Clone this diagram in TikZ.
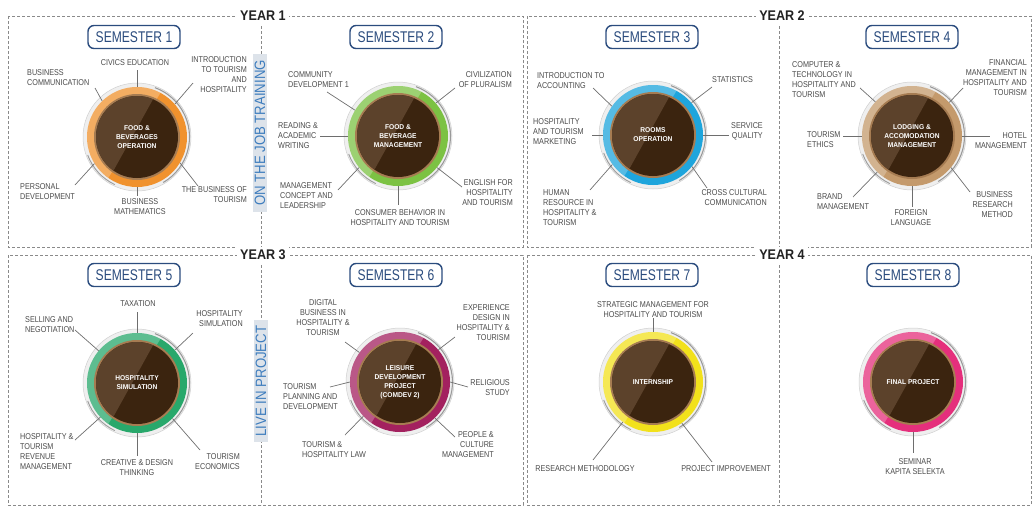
\documentclass[tikz,border=0pt]{standalone}
\usepackage{fontspec}
\setmainfont{Liberation Sans}
\newfontfamily\labfont[FakeStretch=0.85]{Liberation Sans}
\newfontfamily\ctrfont[FakeStretch=0.95]{Liberation Sans}
\newfontfamily\semfont[FakeStretch=0.78]{Liberation Sans}
\newfontfamily\yrfont[FakeStretch=0.9]{Liberation Sans}
\newfontfamily\sidefont[FakeStretch=0.88]{Liberation Sans}
\definecolor{dashgray}{HTML}{8A8A8A}
\definecolor{yearblack}{HTML}{222222}
\definecolor{sideblue}{HTML}{3E7DBE}
\definecolor{sidebg}{HTML}{DDE3EA}
\definecolor{semblue}{HTML}{2B4C7E}
\definecolor{labgray}{HTML}{4A4A4A}
\definecolor{conngray}{HTML}{6E6E6E}
\definecolor{halofill}{HTML}{EFEFEF}
\definecolor{halorim}{HTML}{CFCFCF}
\definecolor{haloarc}{HTML}{9A9A9A}
\definecolor{rimtan}{HTML}{A67C52}
\definecolor{darkbrown}{HTML}{3B240F}
\definecolor{lightbrown}{HTML}{5C422B}
\definecolor{ringA}{HTML}{F0922E}
\definecolor{ringB}{HTML}{7CC243}
\definecolor{ringC}{HTML}{1EA5DC}
\definecolor{ringD}{HTML}{C49A6C}
\definecolor{ringE}{HTML}{28A86B}
\definecolor{ringF}{HTML}{A3215F}
\definecolor{ringG}{HTML}{F2E11B}
\definecolor{ringH}{HTML}{E52F7C}
\newcommand\semdisc[5]{%
 \begin{scope}[shift={(#2,#3)},yscale=-1]
  \fill[halofill] (0,0) circle (54);
  \draw[halorim, line width=0.5pt] (0,0) circle (54);
  \draw[haloarc, line width=1.1pt] (-60:52.5) arc[start angle=-60,end angle=70,radius=52.5];
  \draw[haloarc, line width=0.9pt] (200:52.5) arc[start angle=200,end angle=245,radius=52.5];
  \fill[#4] (0,0) circle (50);
  \fill[white, opacity=.25] (62:50) arc[start angle=62,end angle=235,radius=50] -- cycle;
  \fill[rimtan] (0,0) circle (43);
  \fill[darkbrown] (0,0) circle (41);
  \fill[lightbrown] (67:41) arc[start angle=67,end angle=235,radius=41] -- cycle;
 \end{scope}
 \node[ringnode] (#1) at (#2,#3) {};
 \node[ctr] (#1t) at (#2,#3) {#5};
}
\begin{document}
\begin{tikzpicture}[x=1pt,y=-1pt,
  box/.style={draw=dashgray, dash pattern=on 3pt off 2pt, line width=0.6pt},
  yearlbl/.style={fill=white, inner sep=3pt, font=\yrfont\bfseries\fontsize{14}{14}\selectfont, text=yearblack},
  sidelbl/.style={fill=sidebg, rotate=90, text=sideblue, font=\sidefont\fontsize{15}{15}\selectfont, inner xsep=6pt, inner ysep=2pt},
  sembox/.style={draw=semblue, line width=1.4pt, rounded corners=6pt, fill=white, minimum width=92pt, minimum height=23pt, inner sep=0pt, text=semblue, font=\semfont\fontsize{15.5}{15.5}\selectfont},
  lbl/.style={inner sep=0pt, font=\labfont\fontsize{8.5}{10}\selectfont, text=labgray},
  conn/.style={draw=conngray, line width=0.7pt},
  ctr/.style={text=white, font=\ctrfont\bfseries\fontsize{7}{9}\selectfont, align=center, inner sep=0pt},
  ringnode/.style={circle, minimum size=100pt, inner sep=0pt}]
\useasboundingbox (0,0) rectangle (1033,507);
% frames
\draw[box] (8,16) rectangle (523,247);
\draw[box] (527,16) rectangle (1031,247);
\draw[box] (8,255) rectangle (523,505);
\draw[box] (527,255) rectangle (1031,505);
\draw[box] (261,16) -- (261,247);
\draw[box] (779,16) -- (779,247);
\draw[box] (261,255) -- (261,505);
\draw[box] (779,255) -- (779,505);
\node[yearlbl] (y1) at (263,16) {YEAR 1};
\node[yearlbl] (y2) at (782,16) {YEAR 2};
\node[yearlbl] (y3) at (263,255) {YEAR 3};
\node[yearlbl] (y4) at (782,255) {YEAR 4};
\node[sidelbl] (ojt) at (260,133) {ON THE JOB TRAINING};
\node[sidelbl] (lip) at (261,381) {LIVE IN PROJECT};
% semester titles
\node[sembox] (sem1) at (134,37) {SEMESTER 1};
\node[sembox] (sem2) at (396,37) {SEMESTER 2};
\node[sembox] (sem3) at (652,37) {SEMESTER 3};
\node[sembox] (sem4) at (912,37) {SEMESTER 4};
\node[sembox] (sem5) at (134,275) {SEMESTER 5};
\node[sembox] (sem6) at (396,275) {SEMESTER 6};
\node[sembox] (sem7) at (652,275) {SEMESTER 7};
\node[sembox] (sem8) at (913,275) {SEMESTER 8};
% discs
\semdisc{c1}{137}{137}{ringA}{FOOD \&\\BEVERAGES\\OPERATION}
\semdisc{c2}{398}{136}{ringB}{FOOD \&\\BEVERAGE\\MANAGEMENT}
\semdisc{c3}{653}{135}{ringC}{ROOMS\\OPERATION}
\semdisc{c4}{912}{136}{ringD}{LODGING \&\\ACCOMODATION\\MANAGEMENT}
\semdisc{c5}{137}{383}{ringE}{HOSPITALITY\\SIMULATION}
\semdisc{c6}{400}{382}{ringF}{LEISURE\\DEVELOPMENT\\PROJECT\\(COMDEV 2)}
\semdisc{c7}{653}{382}{ringG}{INTERNSHIP}
\semdisc{c8}{913}{382}{ringH}{FINAL PROJECT}
% ---------- semester 1
\node[lbl, anchor=north] (l1a) at (135,59) {CIVICS EDUCATION};
\node[lbl, anchor=north west, align=left] (l1b) at (27,69) {BUSINESS\\COMMUNICATION};
\node[lbl, anchor=north east, align=right] (l1c) at (247,56) {INTRODUCTION\\TO TOURISM\\AND\\HOSPITALITY};
\node[lbl, anchor=north west, align=left] (l1d) at (20,183) {PERSONAL\\DEVELOPMENT};
\node[lbl, anchor=north, align=center] (l1e) at (140,198) {BUSINESS\\MATHEMATICS};
\node[lbl, anchor=north east, align=right] (l1f) at (247,186) {THE BUSINESS OF\\TOURISM};
\coordinate (e1a) at (137,70); \coordinate (e1b) at (95,88); \coordinate (e1c) at (193,83);
\coordinate (e1d) at (75,185); \coordinate (e1e) at (137,196); \coordinate (e1f) at (198,186);
\draw[conn] (c1.90) -- (e1a); \draw[conn] (c1.134) -- (e1b); \draw[conn] (c1.41) -- (e1c);
\draw[conn] (c1.212) -- (e1d); \draw[conn] (c1.270) -- (e1e); \draw[conn] (c1.329) -- (e1f);
% ---------- semester 2
\node[lbl, anchor=north west, align=left] (l2a) at (288,71) {COMMUNITY\\DEVELOPMENT 1};
\node[lbl, anchor=north east, align=right] (l2b) at (512,71) {CIVILIZATION\\OF PLURALISM};
\node[lbl, anchor=north west, align=left] (l2c) at (278,122) {READING \&\\ACADEMIC\\WRITING};
\node[lbl, anchor=north west, align=left] (l2d) at (280,182) {MANAGEMENT\\CONCEPT AND\\LEADERSHIP};
\node[lbl, anchor=north, align=center] (l2e) at (400,209) {CONSUMER BEHAVIOR IN\\HOSPITALITY AND TOURISM};
\node[lbl, anchor=north east, align=right] (l2f) at (513,179) {ENGLISH FOR\\HOSPITALITY\\AND TOURISM};
\coordinate (e2a) at (327,92); \coordinate (e2b) at (455,88); \coordinate (e2c) at (320,136);
\coordinate (e2d) at (338,190); \coordinate (e2e) at (398,205); \coordinate (e2f) at (462,187);
\draw[conn] (c2.149) -- (e2a); \draw[conn] (c2.41) -- (e2b); \draw[conn] (c2.180) -- (e2c);
\draw[conn] (c2.219) -- (e2d); \draw[conn] (c2.270) -- (e2e); \draw[conn] (c2.321) -- (e2f);
% ---------- semester 3
\node[lbl, anchor=north west, align=left] (l3a) at (537,72) {INTRODUCTION TO\\ACCOUNTING};
\node[lbl, anchor=north west] (l3b) at (712,76) {STATISTICS};
\node[lbl, anchor=north west, align=left] (l3c) at (533,118) {HOSPITALITY\\AND TOURISM\\MARKETING};
\node[lbl, anchor=north east, align=right] (l3d) at (763,122) {SERVICE\\QUALITY};
\node[lbl, anchor=north west, align=left] (l3e) at (543,189) {HUMAN\\RESOURCE IN\\HOSPITALITY \&\\TOURISM};
\node[lbl, anchor=north east, align=right] (l3f) at (767,189) {CROSS CULTURAL\\COMMUNICATION};
\coordinate (e3a) at (593,88); \coordinate (e3b) at (712,87); \coordinate (e3c) at (592,135);
\coordinate (e3d) at (729,135); \coordinate (e3e) at (590,190); \coordinate (e3f) at (707,188);
\draw[conn] (c3.145) -- (e3a); \draw[conn] (c3.40) -- (e3b); \draw[conn] (c3.180) -- (e3c);
\draw[conn] (c3.0) -- (e3d); \draw[conn] (c3.216) -- (e3e); \draw[conn] (c3.321) -- (e3f);
% ---------- semester 4
\node[lbl, anchor=north west, align=left] (l4a) at (792,61) {COMPUTER \&\\TECHNOLOGY IN\\HOSPITALITY AND\\TOURISM};
\node[lbl, anchor=north east, align=right] (l4b) at (1027,59) {FINANCIAL\\MANAGEMENT IN\\HOSPITALITY AND\\TOURISM};
\node[lbl, anchor=north west, align=left] (l4c) at (807,131) {TOURISM\\ETHICS};
\node[lbl, anchor=north east, align=right] (l4d) at (1027,132) {HOTEL\\MANAGEMENT};
\node[lbl, anchor=north west, align=left] (l4e) at (817,193) {BRAND\\MANAGEMENT};
\node[lbl, anchor=north, align=center] (l4f) at (911,209) {FOREIGN\\LANGUAGE};
\node[lbl, anchor=north east, align=right] (l4g) at (1013,191) {BUSINESS\\RESEARCH\\METHOD};
\coordinate (e4a) at (860,88); \coordinate (e4b) at (963,88); \coordinate (e4c) at (843,136);
\coordinate (e4d) at (990,136); \coordinate (e4e) at (853,197); \coordinate (e4f) at (912,207);
\coordinate (e4g) at (970,192);
\draw[conn] (c4.137) -- (e4a); \draw[conn] (c4.42) -- (e4b); \draw[conn] (c4.180) -- (e4c);
\draw[conn] (c4.0) -- (e4d); \draw[conn] (c4.226) -- (e4e); \draw[conn] (c4.270) -- (e4f);
\draw[conn] (c4.321) -- (e4g);
% ---------- semester 5
\node[lbl, anchor=north] (l5a) at (138,300) {TAXATION};
\node[lbl, anchor=north west, align=left] (l5b) at (25,316) {SELLING AND\\NEGOTIATION};
\node[lbl, anchor=north east, align=right] (l5c) at (243,310) {HOSPITALITY\\SIMULATION};
\node[lbl, anchor=north west, align=left] (l5d) at (20,433) {HOSPITALITY \&\\TOURISM\\REVENUE\\MANAGEMENT};
\node[lbl, anchor=north, align=center] (l5e) at (137,459) {CREATIVE \& DESIGN\\THINKING};
\node[lbl, anchor=north east, align=right] (l5f) at (240,453) {TOURISM\\ECONOMICS};
\coordinate (e5a) at (137,312); \coordinate (e5b) at (75,330); \coordinate (e5c) at (193,333);
\coordinate (e5d) at (75,440); \coordinate (e5e) at (137,456); \coordinate (e5f) at (200,450);
\draw[conn] (c5.90) -- (e5a); \draw[conn] (c5.140) -- (e5b); \draw[conn] (c5.41) -- (e5c);
\draw[conn] (c5.223) -- (e5d); \draw[conn] (c5.270) -- (e5e); \draw[conn] (c5.315) -- (e5f);
% ---------- semester 6
\node[lbl, anchor=north, align=center] (l6a) at (323,299) {DIGITAL\\BUSINESS IN\\HOSPITALITY \&\\TOURISM};
\node[lbl, anchor=north east, align=right] (l6b) at (510,304) {EXPERIENCE\\DESIGN IN\\HOSPITALITY \&\\TOURISM};
\node[lbl, anchor=north west, align=left] (l6c) at (283,383) {TOURISM\\PLANNING AND\\DEVELOPMENT};
\node[lbl, anchor=north east, align=right] (l6d) at (510,379) {RELIGIOUS\\STUDY};
\node[lbl, anchor=north west, align=left] (l6e) at (302,441) {TOURISM \&\\HOSPITALITY LAW};
\node[lbl, anchor=north east, align=right] (l6f) at (494,431) {PEOPLE \&\\CULTURE\\MANAGEMENT};
\coordinate (e6a) at (345,342); \coordinate (e6b) at (455,337); \coordinate (e6c) at (330,387);
\coordinate (e6d) at (468,387); \coordinate (e6e) at (345,435); \coordinate (e6f) at (455,437);
\draw[conn] (c6.144) -- (e6a); \draw[conn] (c6.40) -- (e6b); \draw[conn] (c6.180) -- (e6c);
\draw[conn] (c6.0) -- (e6d); \draw[conn] (c6.223) -- (e6e); \draw[conn] (c6.314) -- (e6f);
% ---------- semester 7
\node[lbl, anchor=north, align=center] (l7a) at (653,301) {STRATEGIC MANAGEMENT FOR\\HOSPITALITY AND TOURISM};
\node[lbl, anchor=north] (l7b) at (585,465) {RESEARCH METHODOLOGY};
\node[lbl, anchor=north] (l7c) at (726,465) {PROJECT IMPROVEMENT};
\coordinate (e7a) at (653,318); \coordinate (e7b) at (593,460); \coordinate (e7c) at (712,462);
\draw[conn] (c7.90) -- (e7a); \draw[conn] (c7.233) -- (e7b); \draw[conn] (c7.305) -- (e7c);
% ---------- semester 8
\node[lbl, anchor=north, align=center] (l8a) at (915,458) {SEMINAR\\KAPITA SELEKTA};
\coordinate (e8a) at (913,453);
\draw[conn] (c8.270) -- (e8a);
\end{tikzpicture}
\end{document}
